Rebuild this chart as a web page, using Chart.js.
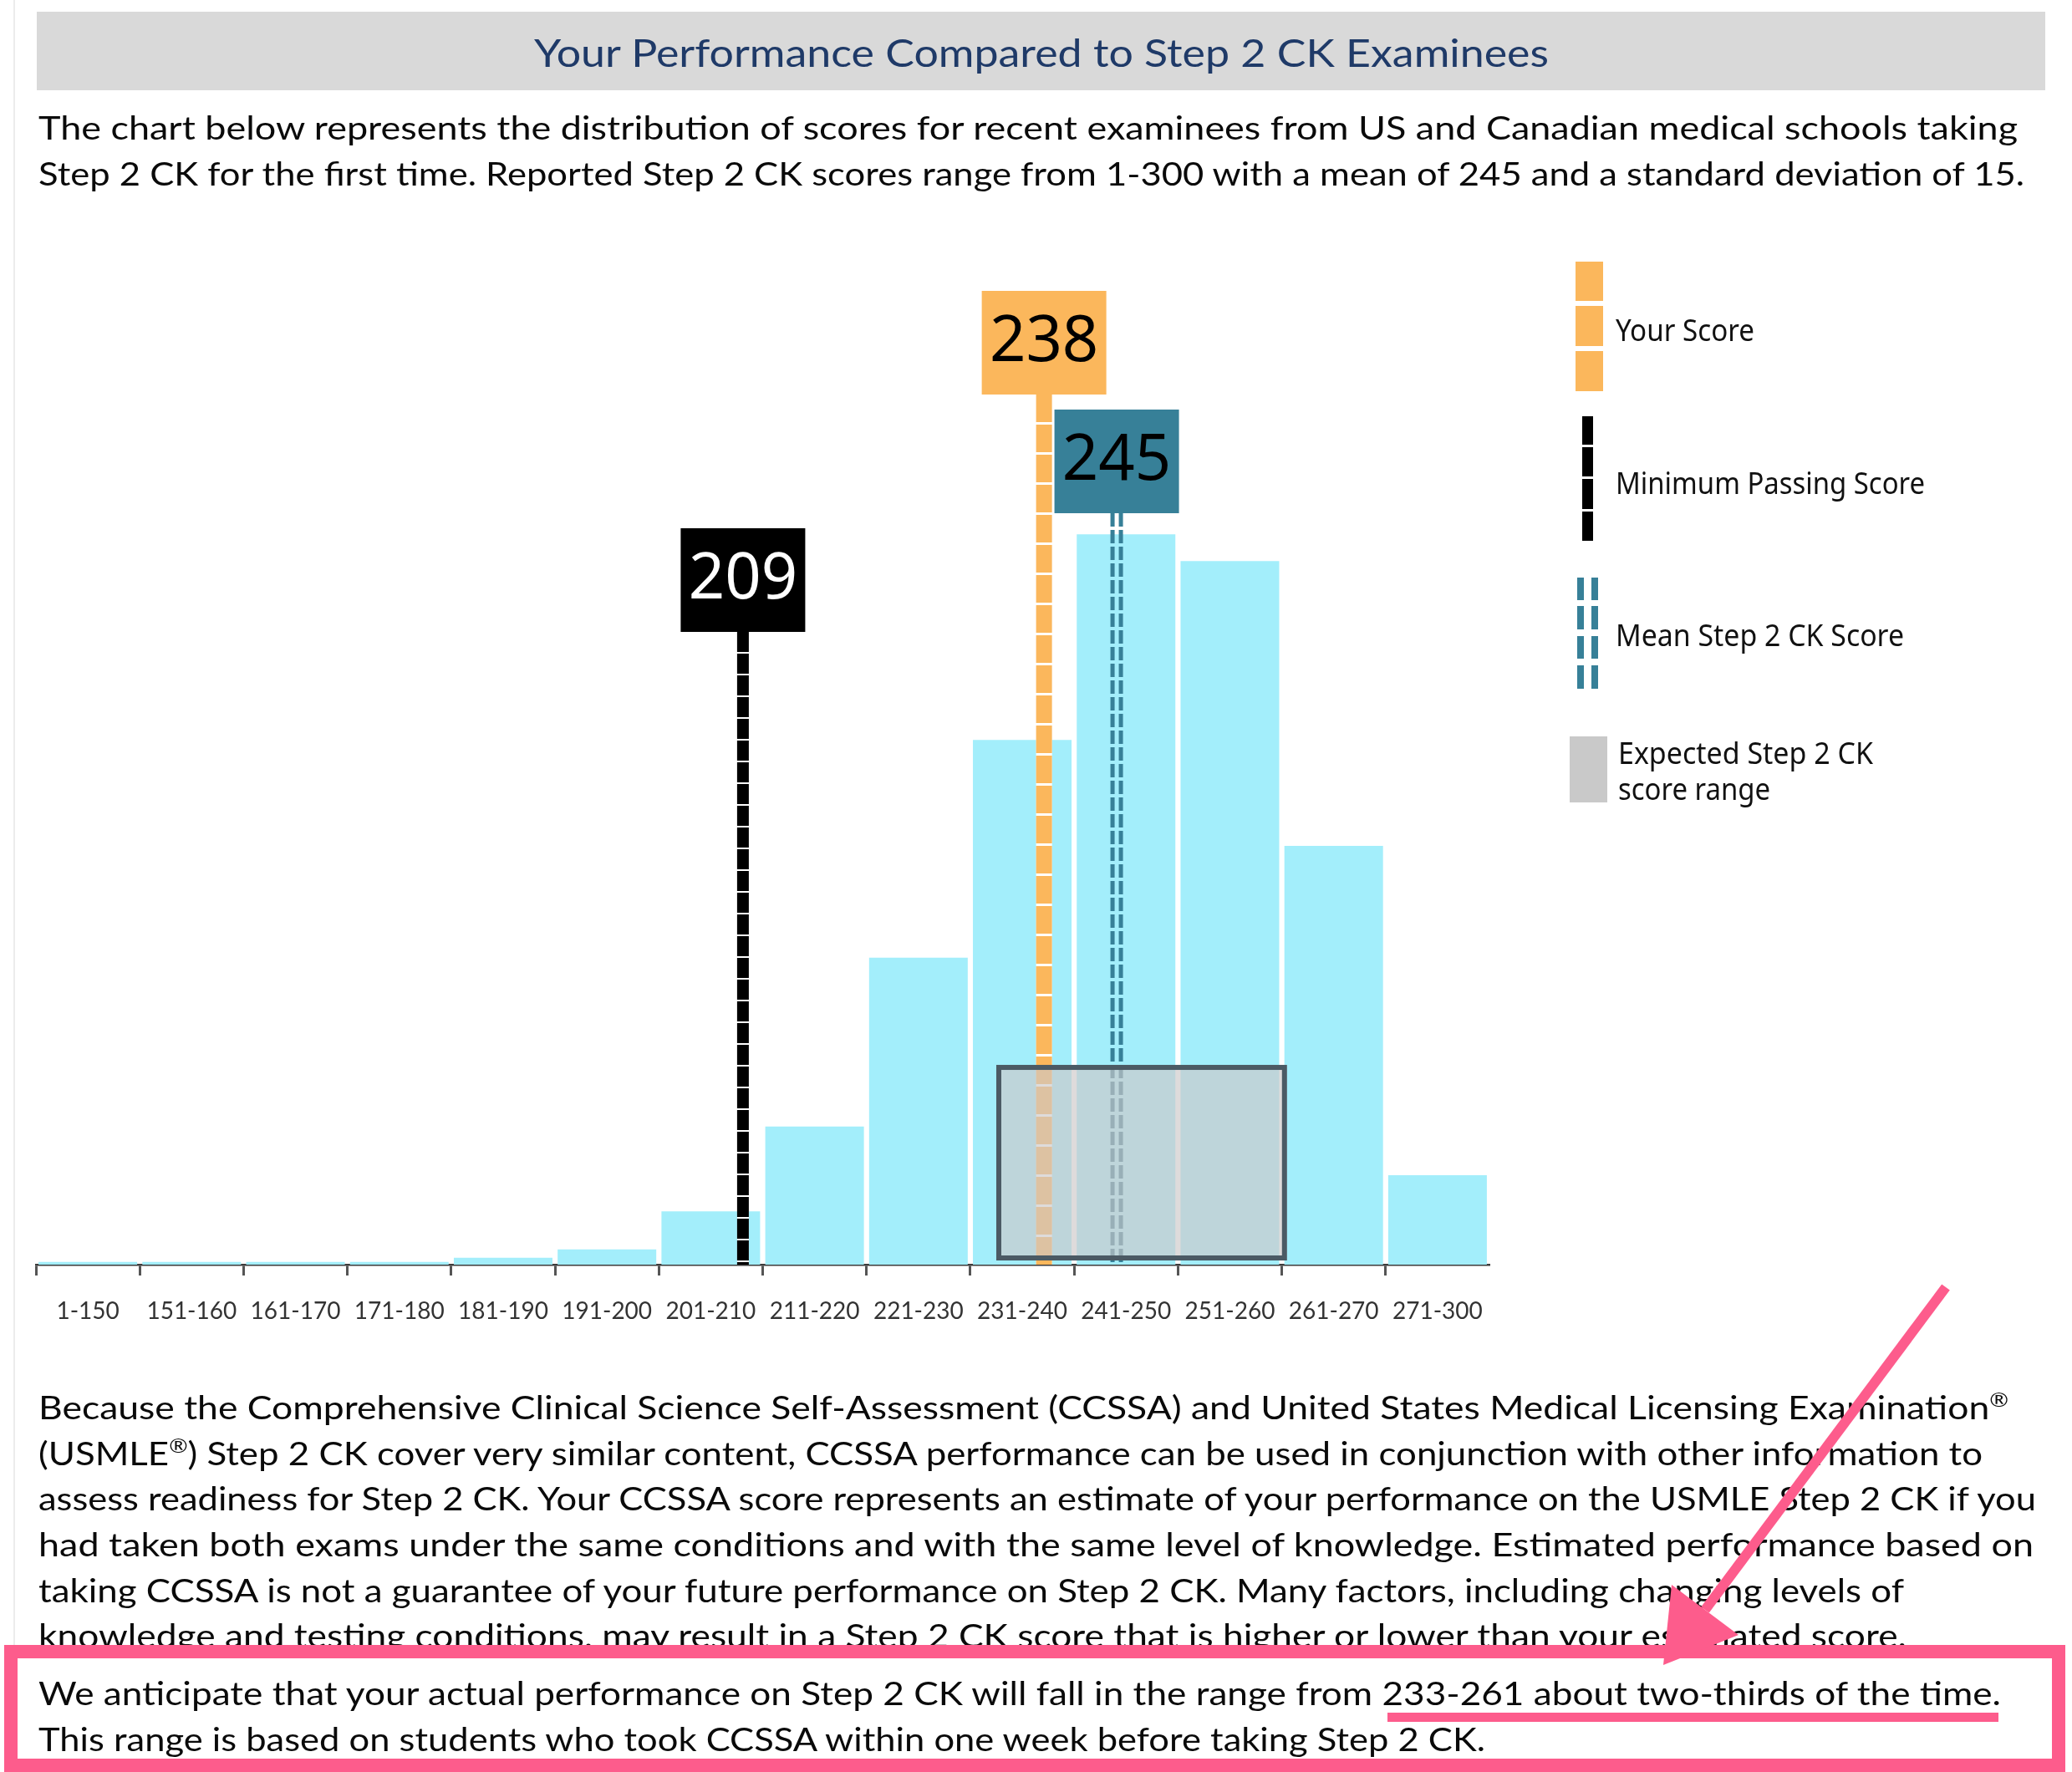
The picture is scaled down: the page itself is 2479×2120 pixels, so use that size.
<!DOCTYPE html>
<html>
<head>
<meta charset="utf-8">
<title>Your Performance Compared to Step 2 CK Examinees</title>
<script src="https://cdn.jsdelivr.net/npm/chart.js@4.4.1/dist/chart.umd.min.js"></script>
<style>
  html, body { margin: 0; padding: 0; background: #ffffff; }
  body { width: 2479px; height: 2120px; position: relative; overflow: hidden; }
  #chartBox { position: absolute; left: 0; top: 300px; width: 2479px; height: 1320px; }
  #page { position: absolute; left: 0; top: 0; pointer-events: none; }
  .txt { font-family: Lato, sans-serif; font-size: 39px; fill: #0a0a0a; }
</style>
</head>
<body>
<div id="chartBox"><canvas id="scoreChart" width="2479" height="1320"></canvas></div>

<svg id="page" width="2479" height="2120" xmlns="http://www.w3.org/2000/svg">
  <line x1="17" y1="0" x2="17" y2="1970" stroke="#ececec" stroke-width="2"/>
  <rect x="44" y="14" width="2403" height="94" fill="#d9d9d9"/>
  <text x="1246" y="80" text-anchor="middle" font-family="Lato, sans-serif" font-size="46" fill="#1f3a68"
        textLength="1214" lengthAdjust="spacingAndGlyphs">Your Performance Compared to Step 2 CK Examinees</text>

  <text class="txt" x="46" y="167" textLength="2368" lengthAdjust="spacingAndGlyphs">The chart below represents the distribution of scores for recent examinees from US and Canadian medical schools taking</text>
  <text class="txt" x="46" y="222" textLength="2376" lengthAdjust="spacingAndGlyphs">Step 2 CK for the first time. Reported Step 2 CK scores range from 1-300 with a mean of 245 and a standard deviation of 15.</text>

  <text class="txt" x="46" y="1698" textLength="2357" lengthAdjust="spacingAndGlyphs">Because the Comprehensive Clinical Science Self-Assessment (CCSSA) and United States Medical Licensing Examination<tspan dy="-15" font-size="24">®</tspan></text>
  <text class="txt" x="46" y="1753" textLength="2326" lengthAdjust="spacingAndGlyphs">(USMLE<tspan dy="-15" font-size="24">®</tspan><tspan dy="15">) Step 2 CK cover very similar content, CCSSA performance can be used in conjunction with other information to</tspan></text>
  <text class="txt" x="46" y="1807" textLength="2390" lengthAdjust="spacingAndGlyphs">assess readiness for Step 2 CK. Your CCSSA score represents an estimate of your performance on the USMLE Step 2 CK if you</text>
  <text class="txt" x="46" y="1862" textLength="2387" lengthAdjust="spacingAndGlyphs">had taken both exams under the same conditions and with the same level of knowledge. Estimated performance based on</text>
  <text class="txt" x="46" y="1917" textLength="2232" lengthAdjust="spacingAndGlyphs">taking CCSSA is not a guarantee of your future performance on Step 2 CK. Many factors, including changing levels of</text>
  <text class="txt" x="46" y="1971" textLength="2235" lengthAdjust="spacingAndGlyphs">knowledge and testing conditions, may result in a Step 2 CK score that is higher or lower than your estimated score.</text>

  <rect x="13" y="1976" width="2450" height="136" fill="#ffffff"/>
  <text class="txt" x="46" y="2040" textLength="2348" lengthAdjust="spacingAndGlyphs">We anticipate that your actual performance on Step 2 CK will fall in the range from 233-261 about two-thirds of the time.</text>
  <text class="txt" x="46" y="2095" textLength="1731" lengthAdjust="spacingAndGlyphs">This range is based on students who took CCSSA within one week before taking Step 2 CK.</text>
  <rect x="13" y="1976" width="2450" height="136" fill="none" stroke="#fd5c8c" stroke-width="16"/>
  <rect x="1660" y="2049" width="731" height="11" fill="#fd5c8c"/>

  <line x1="2328" y1="1540" x2="2040" y2="1926" stroke="#fd5c8c" stroke-width="12"/>
  <polygon points="1990,1992 2000,1896 2080,1956" fill="#fd5c8c"/>
</svg>

<script>
// ===== DATA =====
const categories = ['1-150', '151-160', '161-170', '171-180', '181-190', '191-200', '201-210',
                    '211-220', '221-230', '231-240', '241-250', '251-260', '261-270', '271-300'];
const examineePct = [0.09, 0.09, 0.09, 0.09, 0.23, 0.51, 1.79, 4.63, 10.3, 17.6, 24.5, 23.6, 14.05, 3.0];

const markerLabels = ['Minimum Passing Score', 'Your Score', 'Mean Step 2 CK Score'];
const markerScores = [209, 238, 245];
const expectedRange = [233, 261];
const expectedRangeLabel = ['Expected Step 2 CK', 'score range'];

// ===== LOOK =====
const BAR_COLOR = '#a3eefb';
const Y_MAX = 33;
const RANGE_TOP = 6.7; // height of the grey range box, in y units
const CANVAS_TOP = 300; // page offset of the canvas

// boxTop is measured from the top of the chart area
const markerStyle = [
    { box: '#000000', text: '#ffffff', boxTop: 296, line: 'gapped', width: 14, dash: [24, 2] },
    { box: '#fbb75c', text: '#000000', boxTop: 12, line: 'gapped', width: 19, dash: [33, 3] },
    { box: '#378098', text: '#000000', boxTop: 154, line: 'double', width: 5, dash: [16, 4] }
];
const BOX_W = 149, BOX_H = 124;

// position of a score inside its bin; shift is in score points
function scoreToPixel(xScale, score, shift) {
    const w = xScale.getPixelForValue(1) - xScale.getPixelForValue(0);
    for (let i = 0; i < categories.length; i++) {
        const [lo, hi] = categories[i].split('-').map(Number);
        if (score >= lo && score <= hi) {
            const left = xScale.getPixelForValue(i) - w / 2;
            return left + (score - lo + shift) / (hi - lo + 1) * w;
        }
    }
    return null;
}

function vline(ctx, x, y0, y1, width, color, dash) {
    ctx.lineWidth = width;
    ctx.strokeStyle = color;
    ctx.setLineDash(dash || []);
    ctx.beginPath();
    ctx.moveTo(x, y0);
    ctx.lineTo(x, y1);
    ctx.stroke();
}

function fitText(ctx, str, x, y, targetW) {
    const w = ctx.measureText(str).width;
    ctx.save();
    ctx.translate(x, y);
    ctx.scale(targetW / w, 1);
    ctx.fillText(str, 0, 0);
    ctx.restore();
}

const markerPlugin = {
    id: 'markers',
    afterDatasetsDraw(chart) {
        const { ctx, chartArea, scales: { x, y } } = chart;
        ctx.save();
        ctx.lineCap = 'butt';

        markerScores.forEach((score, i) => {
            const st = markerStyle[i];
            const px = scoreToPixel(x, score, 0.1);
            const top = chartArea.top + st.boxTop;
            const lineTop = top + BOX_H;

            if (st.line === 'gapped') {
                vline(ctx, px, lineTop, chartArea.bottom, st.width, '#ffffff');
                vline(ctx, px, lineTop, chartArea.bottom, st.width, st.box, st.dash);
            } else {
                vline(ctx, px - 5, lineTop, chartArea.bottom, st.width, st.box, st.dash);
                vline(ctx, px + 5, lineTop, chartArea.bottom, st.width, st.box, st.dash);
            }
            ctx.setLineDash([]);

            ctx.fillStyle = st.box;
            ctx.fillRect(px - BOX_W / 2, top, BOX_W, BOX_H);
            ctx.fillStyle = st.text;
            ctx.font = '76px "Noto Sans", sans-serif';
            ctx.textAlign = 'center';
            ctx.textBaseline = 'alphabetic';
            ctx.fillText(String(score), px, top + 84);
        });

        // expected score range box
        const x0 = scoreToPixel(x, expectedRange[0], 0.5);
        const x1 = scoreToPixel(x, expectedRange[1], 0.5);
        const yTop = y.getPixelForValue(RANGE_TOP);
        const yBot = chartArea.bottom - 5;
        ctx.fillStyle = 'rgba(205, 200, 200, 0.65)';
        ctx.fillRect(x0, yTop, x1 - x0, yBot - yTop);
        ctx.lineWidth = 6;
        ctx.strokeStyle = '#4b5a64';
        ctx.strokeRect(x0 + 3, yTop + 3, x1 - x0 - 6, yBot - yTop - 6);
        ctx.restore();
    }
};

// legend keys drawn by hand, page coordinates
const legendPlugin = {
    id: 'sideLegend',
    afterDraw(chart) {
        const ctx = chart.ctx;
        const off = CANVAS_TOP;
        ctx.save();

        ctx.fillStyle = markerStyle[1].box;
        [[313, 360], [366, 414], [420, 468]].forEach(([a, b]) => ctx.fillRect(1885, a - off, 33, b - a));

        ctx.fillStyle = markerStyle[0].box;
        [[498, 532], [535, 570], [573, 609], [612, 647]].forEach(([a, b]) => ctx.fillRect(1893, a - off, 13, b - a));

        ctx.fillStyle = markerStyle[2].box;
        [[691, 718], [725, 753], [761, 788], [796, 824]].forEach(([a, b]) => {
            ctx.fillRect(1887, a - off, 8, b - a);
            ctx.fillRect(1904, a - off, 8, b - a);
        });

        ctx.fillStyle = '#c9c9c9';
        ctx.fillRect(1878, 881 - off, 45, 79);

        ctx.fillStyle = '#111111';
        ctx.font = '37px "Noto Sans", sans-serif';
        ctx.textAlign = 'left';
        ctx.textBaseline = 'alphabetic';
        fitText(ctx, markerLabels[1], 1933, 408 - off, 166);
        fitText(ctx, markerLabels[0], 1933, 591 - off, 370);
        fitText(ctx, markerLabels[2], 1933, 773 - off, 345);
        fitText(ctx, expectedRangeLabel[0], 1936, 914 - off, 305);
        fitText(ctx, expectedRangeLabel[1], 1936, 957 - off, 182);
        ctx.restore();
    }
};

new Chart(document.getElementById('scoreChart'), {
    type: 'bar',
    data: {
        labels: categories,
        datasets: [{
            label: 'Examinees (%)',
            data: examineePct,
            backgroundColor: BAR_COLOR,
            borderWidth: 0,
            barPercentage: 0.95,
            categoryPercentage: 1.0
        }]
    },
    options: {
        responsive: false,
        animation: false,
        devicePixelRatio: 1,
        layout: {
            padding: { left: 43, right: 697, top: 36, bottom: 27 }
        },
        plugins: {
            legend: { display: false },
            tooltip: { enabled: false }
        },
        scales: {
            x: {
                afterFit: (scale) => { scale.height = 80; },
                grid: {
                    display: true,
                    drawOnChartArea: false,
                    drawTicks: true,
                    tickLength: 13,
                    tickWidth: 3,
                    tickColor: (c) => c.index < categories.length ? '#555555' : 'rgba(0,0,0,0)'
                },
                border: { display: true, color: '#3c3c3c', width: 2.5 },
                ticks: {
                    autoSkip: false,
                    maxRotation: 0,
                    minRotation: 0,
                    padding: 26,
                    color: '#333333',
                    font: { family: 'Lato', size: 28 }
                }
            },
            y: {
                display: false,
                min: 0,
                max: Y_MAX
            }
        }
    },
    plugins: [markerPlugin, legendPlugin]
});
</script>
</body>
</html>
